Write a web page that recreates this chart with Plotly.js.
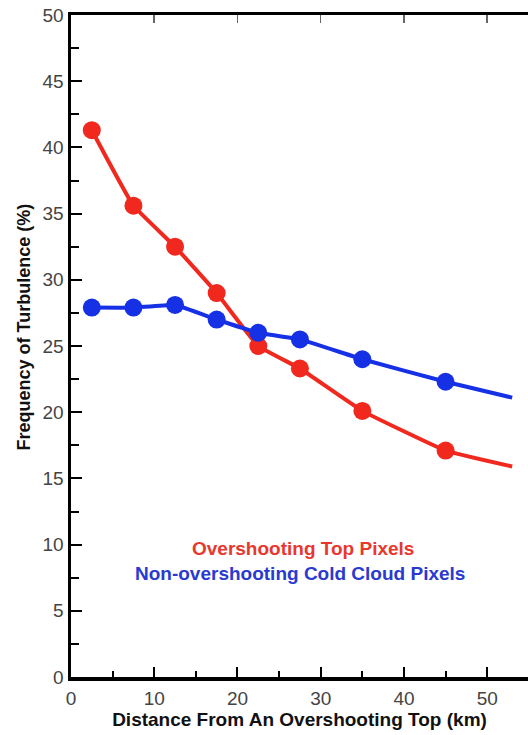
<!DOCTYPE html>
<html>
<head>
<meta charset="utf-8">
<script src="https://cdn.plot.ly/plotly-3.0.1.min.js"></script>
<style>html,body{margin:0;padding:0;background:#fff;}#chart{width:528px;height:735px;}</style>
</head>
<body>
<div id="chart"></div>
<script>
// Distance from an overshooting top (km); last entry is the line end (no marker)
var distance = [2.5, 7.5, 12.5, 17.5, 22.5, 27.5, 35, 45, 53];
var overshootingTop = [41.3, 35.6, 32.5, 29.0, 25.0, 23.3, 20.1, 17.1, 15.9];
var nonOvershootingCold = [27.9, 27.9, 28.1, 27.0, 26.0, 25.5, 24.0, 22.3, 21.1];
var seriesNames = ["Overshooting Top Pixels", "Non-overshooting Cold Cloud Pixels"];
var xTitle = 'Distance From An Overshooting Top (km)';
var yTitle = 'Frequency of Turbulence (%)';

var RED = '#f0281e', BLUE = '#1630e6';
var markerSizes = distance.map(function(d, i){ return i === distance.length - 1 ? 0 : 18; });

var traces = [
  {x: distance, y: overshootingTop, name: seriesNames[0], mode: 'lines+markers',
   line: {color: RED, width: 4, shape: 'spline', smoothing: 0.3},
   marker: {color: RED, size: markerSizes, opacity: 1, line: {width: 0}}},
  {x: distance, y: nonOvershootingCold, name: seriesNames[1], mode: 'lines+markers',
   line: {color: BLUE, width: 4, shape: 'spline', smoothing: 0.3},
   marker: {color: BLUE, size: markerSizes, opacity: 1, line: {width: 0}}},
  {x: [0], y: [0], xaxis: 'x2', mode: 'markers', marker: {opacity: 0}, hoverinfo: 'skip', showlegend: false}
];

var FAM = 'Liberation Sans, Arial, sans-serif';
var tickFont = {family: FAM, size: 19, color: '#444'};

var layout = {
  width: 528, height: 735,
  margin: {l: 71, r: 0, t: 15, b: 58},
  paper_bgcolor: '#fff', plot_bgcolor: '#fff',
  showlegend: false,
  xaxis: {
    range: [0, 54.9], showgrid: false, zeroline: false,
    showline: true, linecolor: '#000', linewidth: 3.5,
    ticks: 'inside', ticklen: 10, tickwidth: 2, tickcolor: '#000', dtick: 10, tick0: 0,
    minor: {ticks: 'inside', ticklen: 6, tickwidth: 2, tickcolor: '#000', dtick: 5},
    tickfont: tickFont, ticklabelstandoff: 2,
    title: {text: xTitle, font: {family: FAM, size: 19, color: '#111', weight: 'bold'}, standoff: 5}
  },
  xaxis2: {
    overlaying: 'x', side: 'top', range: [0, 54.9], showgrid: false, zeroline: false,
    showline: true, linecolor: '#000', linewidth: 3.5,
    ticks: 'inside', ticklen: 8, tickwidth: 1.5, tickcolor: '#666', dtick: 10, tick0: 0,
    showticklabels: false
  },
  yaxis: {
    range: [0, 50], showgrid: false, zeroline: false,
    showline: true, linecolor: '#000', linewidth: 3.5,
    ticks: 'inside', ticklen: 11, tickwidth: 2, tickcolor: '#000', dtick: 5, tick0: 0,
    minor: {ticks: 'inside', ticklen: 8, tickwidth: 2, tickcolor: '#000', dtick: 2.5},
    tickfont: tickFont
  },
  annotations: [
    {x: 27.9, y: 9.67, xref: 'x', yref: 'y', text: seriesNames[0], showarrow: false,
     font: {family: FAM, size: 19, color: '#e8382e', weight: 'bold'}},
    {x: 27.5, y: 7.85, xref: 'x', yref: 'y', text: seriesNames[1], showarrow: false,
     font: {family: FAM, size: 19, color: '#2a3ad0', weight: 'bold'}},
    {x: 0, xref: 'paper', xanchor: 'center', y: 26.4, yref: 'y', text: yTitle, showarrow: false,
     textangle: -90, font: {family: FAM, size: 18, color: '#111', weight: 'bold'}}
  ]
};
// paper x for the y-title annotation: pixel 24 in paper units (plot starts at 71 px, width 457 px)
layout.annotations[2].x = (24 - 71) / 457;

Plotly.newPlot('chart', traces, layout, {displayModeBar: false, staticPlot: true});
</script>
</body>
</html>
